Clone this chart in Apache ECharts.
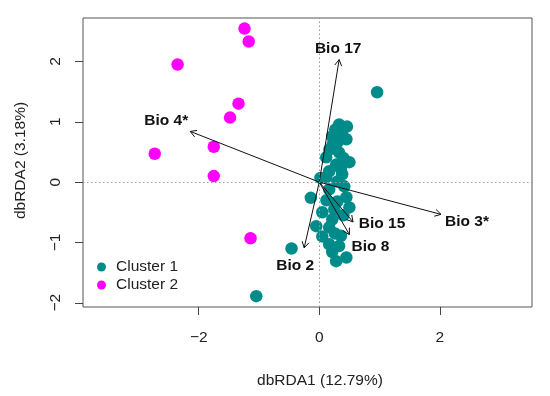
<!DOCTYPE html>
<html>
<head>
<meta charset="utf-8">
<script src="https://cdn.jsdelivr.net/npm/echarts@6/dist/echarts.min.js"></script>
<style>html,body{margin:0;padding:0;background:#fff;}#c{width:550px;height:396px;}</style>
</head>
<body>
<div id="c"></div>
<script>
const clusterNames = ['Cluster 1', 'Cluster 2'];
const cluster1X = [0.96, -0.46, -1.045, 0.33, 0.46, 0.265, 0.38, 0.215, 0.45, 0.30, 0.17, 0.33, 0.115, 0.50, 0.28, 0.165, 0.38, 0.115, 0.02, 0.30, 0.415, 0.165, -0.14, 0.45, 0.30, 0.50, 0.25, 0.05, 0.215, -0.05, 0.165, 0.36, 0.05, 0.165, 0.33, 0.215, 0.45, 0.28, 0.40, 0.22, 0.36, 0.12, 0.26, 0.40];
const cluster1Y = [1.49, -1.10, -1.89, 0.955, 0.92, 0.87, 0.79, 0.76, 0.71, 0.66, 0.54, 0.49, 0.41, 0.33, 0.29, 0.18, 0.13, 0.08, 0.07, 0.01, -0.07, -0.12, -0.26, -0.25, -0.32, -0.42, -0.45, -0.50, -0.62, -0.73, -0.75, -0.89, -0.90, -1.03, -1.06, -1.16, -1.25, -1.31, 0.40, 0.62, 0.22, -0.30, -0.85, -0.55];
const cluster2X = [-1.24, -1.17, -2.35, -1.34, -1.48, -2.73, -1.75, -1.75, -1.14];
const cluster2Y = [2.545, 2.33, 1.95, 1.30, 1.07, 0.47, 0.586, 0.10, -0.93];
const arrowNames = ['Bio 17', 'Bio 4*', 'Bio 3*', 'Bio 15', 'Bio 8', 'Bio 2'];
const arrowX = [0.33, -2.14, 2.02, 0.56, 0.50, -0.25];
const arrowY = [2.03, 0.84, -0.535, -0.66, -0.87, -1.09];
const xTicks = [-2, 0, 2];
const yTicks = [-2, -1, 0, 1, 2];
const xTitle = 'dbRDA1 (12.79%)';
const yTitle = 'dbRDA2 (3.18%)';

// label offsets (pixels from arrow tip) — layout only
const labelOffsets = [[-1, -11], [-24, -11], [26, 7], [29, 2], [21, 12], [-9, 18]];

const FONT = '"Liberation Sans", Arial, Helvetica, sans-serif';
const FS = 15.5;
const teal = '#008B8B';
const magenta = '#FF00FF';

const zip = (a, b) => a.map((v, i) => [v, b[i]]);
const minusFmt = v => String(v).replace('-', '\u2212');

const chart = echarts.init(document.getElementById('c'), null, {renderer: 'canvas'});

function renderArrow(params, api) {
  const o = api.coord([0, 0]);
  const t = api.coord([api.value(0), api.value(1)]);
  const ang = Math.atan2(t[1] - o[1], t[0] - o[0]);
  const L = 7, A = Math.PI / 6;
  const h1 = [t[0] - L * Math.cos(ang - A), t[1] - L * Math.sin(ang - A)];
  const h2 = [t[0] - L * Math.cos(ang + A), t[1] - L * Math.sin(ang + A)];
  const off = labelOffsets[params.dataIndex];
  return {
    type: 'group',
    children: [
      {type: 'line', shape: {x1: o[0], y1: o[1], x2: t[0], y2: t[1]}, style: {stroke: '#111', lineWidth: 1}},
      {type: 'polyline', shape: {points: [h1, t, h2]}, style: {stroke: '#111', fill: null, lineWidth: 1}},
      {type: 'text', x: t[0] + off[0], y: t[1] + off[1],
        style: {text: arrowNames[params.dataIndex], align: 'center', verticalAlign: 'middle',
          font: 'bold ' + FS + 'px ' + FONT, fill: '#111'}}
    ]
  };
}

const option = {
  animation: false,
  backgroundColor: '#fff',
  grid: {left: 83, right: 18, top: 18, bottom: 89, show: true, borderColor: '#555', borderWidth: 1, backgroundColor: 'transparent'},
  xAxis: {
    type: 'value', min: -3.92, max: 3.53,
    axisLine: {show: false, onZero: false},
    splitLine: {show: false},
    axisTick: {show: true, customValues: xTicks, length: 8, lineStyle: {color: '#444'}},
    axisLabel: {customValues: xTicks, formatter: minusFmt, fontSize: FS, fontFamily: FONT, color: '#222', margin: 23}
  },
  yAxis: {
    type: 'value', min: -2.07, max: 2.72,
    axisLine: {show: false, onZero: false},
    splitLine: {show: false},
    axisTick: {show: true, customValues: yTicks, length: 8, lineStyle: {color: '#444'}},
    axisLabel: {customValues: yTicks, formatter: minusFmt, rotate: 90, fontSize: FS, fontFamily: FONT, color: '#222', margin: 19}
  },
  legend: {
    data: clusterNames.map(n => ({name: n, icon: 'circle'})),
    orient: 'vertical', left: 97, top: 259, padding: 0,
    itemWidth: 19, itemHeight: 9, itemGap: 2,
    textStyle: {fontSize: FS, fontFamily: FONT, color: '#222'}
  },
  graphic: [
    {type: 'text', x: 320, y: 380.5, style: {text: xTitle, align: 'center', verticalAlign: 'middle', font: FS + 'px ' + FONT, fill: '#222'}},
    {type: 'text', x: 21, y: 160.5, rotation: Math.PI / 2, style: {text: yTitle, align: 'center', verticalAlign: 'middle', font: FS + 'px ' + FONT, fill: '#222'}}
  ],
  series: [
    {
      type: 'scatter', name: '_ref', data: [], z: 1, silent: true,
      markLine: {
        silent: true, symbol: 'none', label: {show: false},
        lineStyle: {color: '#999', type: [1.5, 2.5], width: 1},
        data: [{xAxis: 0}, {yAxis: 0}]
      }
    },
    {
      type: 'scatter', name: clusterNames[0], data: zip(cluster1X, cluster1Y), z: 2,
      symbol: 'circle', symbolSize: 12.5, itemStyle: {color: teal, opacity: 1}
    },
    {
      type: 'scatter', name: clusterNames[1], data: zip(cluster2X, cluster2Y), z: 2,
      symbol: 'circle', symbolSize: 12.5, itemStyle: {color: magenta, opacity: 1}
    },
    {
      type: 'custom', name: 'arrows', z: 3, silent: true,
      data: zip(arrowX, arrowY),
      encode: {x: 0, y: 1},
      renderItem: renderArrow
    }
  ]
};
chart.setOption(option);
</script>
</body>
</html>
